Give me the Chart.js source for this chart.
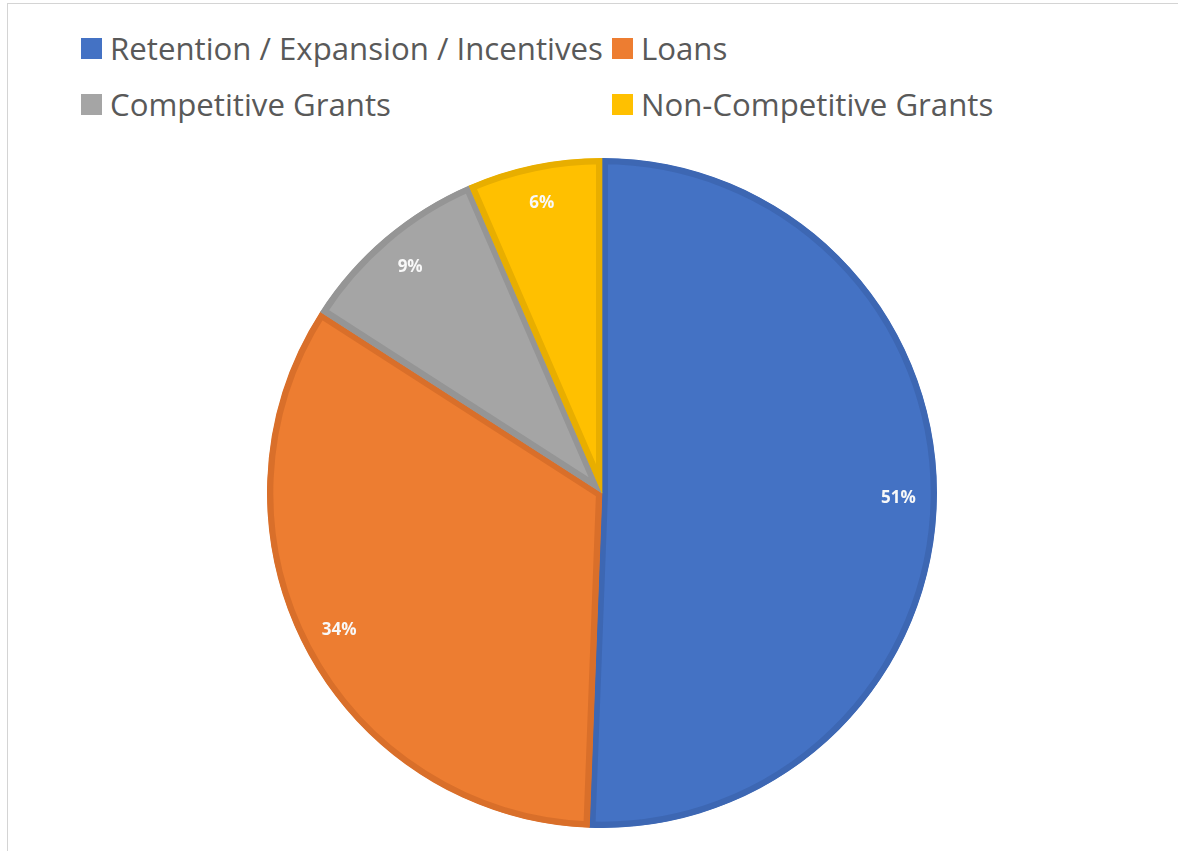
<!DOCTYPE html>
<html>
<head>
<meta charset="utf-8">
<script src="https://cdn.jsdelivr.net/npm/chart.js@4"></script>
<style>
  html, body { margin: 0; padding: 0; background: #fff; }
  body { width: 1178px; height: 851px; position: relative; overflow: hidden; font-family: "Open Sans", "Noto Sans", sans-serif; }
  #frameTop { position: absolute; left: 7px; top: 3px; width: 1171px; height: 1px; background: #d4d4d4; }
  #frameLeft { position: absolute; left: 7px; top: 3px; width: 1px; height: 848px; background: #d4d4d4; }
  #legend { position: absolute; left: 0; top: 0; width: 1178px; height: 140px; }
  .item { position: absolute; display: flex; align-items: center; color: #595959; font-size: 30px; white-space: nowrap; }
  .sw { width: 21px; height: 21px; margin-right: 8px; flex: none; }
  #wrap { position: absolute; left: 262px; top: 153px; width: 680px; height: 680px; }
</style>
</head>
<body>
<div id="frameTop"></div>
<div id="frameLeft"></div>
<div id="legend"></div>
<div id="wrap"><canvas id="c" width="680" height="680"></canvas></div>
<script>
const categories = ["Retention / Expansion / Incentives", "Loans", "Competitive Grants", "Non-Competitive Grants"];
const values = [50.6, 33.5, 9.4, 6.5];
const labelsText = ["51%", "34%", "9%", "6%"];
const colors = ["#4472C4", "#ED7D31", "#A5A5A5", "#FFC000"];
const borderColors = ["#3D67B3", "#D96F2A", "#959595", "#E8AE00"];
const legendPos = [[81, 48], [612, 48], [81, 104], [612, 104]];

// HTML legend
const lg = document.getElementById('legend');
categories.forEach((c, i) => {
  const d = document.createElement('div');
  d.className = 'item';
  d.style.left = legendPos[i][0] + 'px';
  d.style.top = (legendPos[i][1] - 20) + 'px';
  d.style.height = '40px';
  const s = document.createElement('span');
  s.className = 'sw';
  s.style.background = colors[i];
  const t = document.createElement('span');
  t.textContent = c;
  d.appendChild(s); d.appendChild(t);
  lg.appendChild(d);
});
// fit the first label width to the reference span
(function fit() {
  const first = lg.querySelector('.item span:last-child');
  const w = first.getBoundingClientRect().width;
  const target = 493;
  const fs = 30 * target / w;
  lg.querySelectorAll('.item').forEach(el => el.style.fontSize = fs.toFixed(2) + 'px');
})();

const labelPlugin = {
  id: 'sliceLabels',
  afterDatasetsDraw(chart) {
    const ctx = chart.ctx;
    const meta = chart.getDatasetMeta(0);
    ctx.save();
    ctx.fillStyle = '#f8f8f8';
    ctx.font = 'bold 17px "Open Sans", sans-serif';
    ctx.textAlign = 'center';
    ctx.textBaseline = 'middle';
    meta.data.forEach((arc, i) => {
      const p = arc.getProps(['x', 'y', 'startAngle', 'endAngle', 'outerRadius'], true);
      const mid = (p.startAngle + p.endAngle) / 2;
      const r = p.outerRadius * 0.885;
      ctx.fillText(labelsText[i], p.x + Math.cos(mid) * r, p.y + Math.sin(mid) * r);
    });
    ctx.restore();
  }
};

new Chart(document.getElementById('c'), {
  type: 'pie',
  data: {
    labels: categories,
    datasets: [{
      data: values,
      backgroundColor: colors,
      borderColor: borderColors,
      borderWidth: 6,
      borderAlign: 'inner',
      hoverOffset: 0
    }]
  },
  options: {
    responsive: false,
    animation: false,
    radius: 335,
    layout: { padding: 0 },
    plugins: { legend: { display: false }, tooltip: { enabled: false } }
  },
  plugins: [labelPlugin]
});
</script>
</body>
</html>
